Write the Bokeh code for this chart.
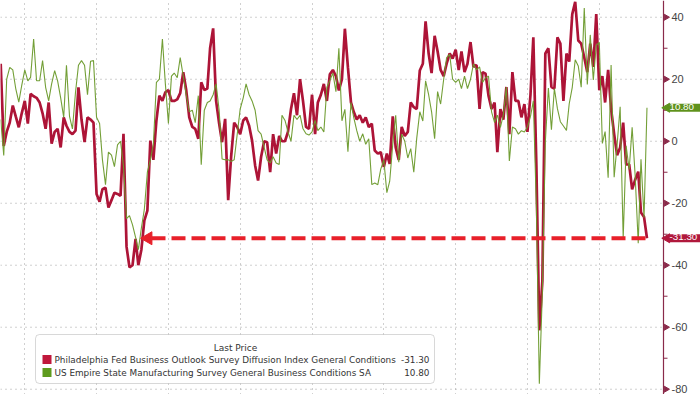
import datetime as dt
import numpy as np
import pandas as pd
from bokeh.plotting import figure
from bokeh.models import Range1d, FixedTicker, Grid, Label, BoxAnnotation
from bokeh.core.properties import value
from bokeh.embed import file_html
from bokeh.resources import INLINE

# ---------------- data (monthly, month-end) ----------------
start_month = "2005-04-30"

philly_2005 = [25, -1.5, 3, 6, 11.5, 8, 4.5, 9, 13]
philly_2006 = [5.7, 15.3, 14.5, 14, 12.5, 9, 4, 12.5, -0.8, 3, 4, -2]
philly_2007 = [7.7, 5, 3, 2.3, 3.4, 17.4, 7, -0.3, 7.7, 7, 6, -17]
philly_2008 = [-19.5, -15.5, -15, -21.4, -19, -16.6, -17, -17.6, 2.4, -34, -40.7, -40]
philly_2009 = [-31.5, -40, -35, -25.6, -22.4, 0.2, -6, 6.7, 14.7, 13, 15.8, 16.5]
philly_2010 = [13, 13, 13.5, 15.5, 22.3, 16.5, 7.7, 4.6, 4, 0.8, 19, 16.5]
philly_2011 = [17, 30, 36.4, 13, 5.7, -0.3, 7.2, -19, -5, 6, 4.6, 2.3]
philly_2012 = [6.7, 7.7, 5, 0.2, -7.8, -12.7, -5, 0, -0.3, -10, 2.3, -4]
philly_2013 = [1.7, 0, 0, 3, 10.4, 15.5, 8.4, 20, 13, 4.6, 4, 15]
philly_2014 = [2.3, 12.5, 15, 18.5, 13, 21.6, 23, 21, 16.4, 20, 36.3, 23.8]
philly_2015 = [12.5, 9.5, 7, 8.4, 6, 7.7, 4.6, 5.7, -3, -4, -3.5, -8.3]
philly_2016 = [-4, -7.3, 8, -2, -6, 4.6, 1.7, 3, 12.5, 11, 10.4, 22.8]
philly_2017 = [25, 38.7, 28.3, 22, 34, 29, 23, 21, 25, 28.3, 26.7, 29.5]
philly_2018 = [23, 29, 22.3, 25, 32, 24, 24.6, 10.4, 22.3, 21.8, 14.7, 10.4]
philly_2019 = [12.5, -3.5, 10.4, 7, 17.5, 2.3, 22.3, 13, 13, 7.7, 12, 3]
philly_2020 = [15, 33.5, -8, -61, -45, 28.3, 30, 17.5, 17, 33.5, 31.5, 13]
philly_2021 = [28.3, 25.7, 41, 45, 32.5, 31.5, 27, 22.3, 31.5, 24, 41, 16.5]
philly_2022 = [21, 12.5, 23, 10.4, 2.3, -4.5, -2, 6, -7.5, -7.5, -15.5, -12.4]
philly_2023 = [-9.8, -23, -24.4, -31.3]

empire_2005 = [7, -4.6, 20, 23.8, 23, 17, 12.6, 18, 23]
empire_2006 = [19.5, 20.6, 33, 19.5, 19.5, 26, 17.4, 13, 18.5, 22.8, 19.5, 14]
empire_2007 = [7.7, 24.5, 8, 4, 15.8, 24.5, 26, 24.5, 15, 25.8, 26, 7.7]
empire_2008 = [5.7, -6, -14, -3.5, -4.5, -8.2, -1.2, 0, -8, -25, -24, -27]
empire_2009 = [-31, -35, -28, -22, -10, -6, -1, 19, 20, 33, 18.5, 5.7]
empire_2010 = [21, 22, 20.5, 27, 21, 15, 9.5, 10, 6, 14.7, -7.6, 10]
empire_2011 = [12.5, 13, 15, 18.5, 10, -5.7, -6, -6, -6.5, -6, 2, 10.4]
empire_2012 = [14, 18.5, 15, 13, 10, 3.4, 2.3, -2, -6, -7, -5, -7]
empire_2013 = [-7.5, 8.4, 6.7, 3, 0, 8.4, 7, 8.4, 4, 2.4, 2, 3]
empire_2014 = [6.7, 3.4, 4.6, 3, 17.4, 19.6, 22, 16, 30, 6.6, 10.3, -3.4]
empire_2015 = [12.5, 7.7, 3.4, 0, 2.4, -1, 0.8, -14, -13.5, -14, -9, -6]
empire_2016 = [-16.6, -12.9, -1, 8.4, -6.8, 2.3, 0, -5.4, -2.4, -10, 1, 9.5]
empire_2017 = [6.5, 19.5, 15, 9.5, 0.8, 16, 12, 20, 27, 28, 20, 19]
empire_2018 = [20, 17, 21, 17, 20, 25, 23, 24, 19, 20.5, 21, 9.5]
empire_2019 = [6, 8.4, 4.5, 8.5, 17.5, -6.4, 4.6, 4, 2.3, 3.4, 3, 4.6]
empire_2020 = [8, 13, -21.5, -78.2, -48.5, -0.2, 17.2, 3.7, 17, 10.5, 6.3, 4.9]
empire_2021 = [3.5, 12.1, 17.4, 26.3, 24.3, 17.4, 43, 18.3, 34.3, 19.8, 30.9, 31.9]
empire_2022 = [-0.7, 3.1, -11.8, 24.6, -11.6, -1.2, 11.1, -31.3, -1.5, -9.1, 4.5, -11.2]
empire_2023 = [-32.9, -5.8, -24.6, 10.8]

philly_name = "Philadelphia Fed Business Outlook Survey Diffusion Index General Conditions"
empire_name = "US Empire State Manufacturing Survey General Business Conditions SA"
legend_title = "Last Price"
y_ticks = [-80, -60, -40, -20, 0, 20, 40]
grid_years = [2006, 2008, 2010, 2012, 2014, 2016, 2018, 2020, 2022]
arrow_tip_date = "2009-06-08"
arrow_line_start = "2009-07-12"

philly = sum([philly_2005, philly_2006, philly_2007, philly_2008, philly_2009, philly_2010,
              philly_2011, philly_2012, philly_2013, philly_2014, philly_2015, philly_2016,
              philly_2017, philly_2018, philly_2019, philly_2020, philly_2021, philly_2022,
              philly_2023], [])
empire = sum([empire_2005, empire_2006, empire_2007, empire_2008, empire_2009, empire_2010,
              empire_2011, empire_2012, empire_2013, empire_2014, empire_2015, empire_2016,
              empire_2017, empire_2018, empire_2019, empire_2020, empire_2021, empire_2022,
              empire_2023], [])

try:
    dates = pd.date_range(start_month, periods=len(philly), freq="ME")
except Exception:
    dates = pd.date_range(start_month, periods=len(philly), freq="M")

RED = "#ad1437"
GREEN = "#6c9a2c"
AXIS = "#8a2a4a"
ARROW = "#e8202a"
GRID = "#a0a0a0"

W, H = 700, 394
AXIS_PX = 663                      # position of the value axis, in pixels from the left
DAYS_PER_PX = 10.172
x_start = pd.Timestamp("2005-04-28")
x_end = x_start + pd.Timedelta(days=W * DAYS_PER_PX)
y_top, y_bottom = 45.4, -81.7


def px2x(px):
    return (x_start + pd.Timedelta(days=px * DAYS_PER_PX)).to_pydatetime()


p = figure(width=W, height=H, x_axis_type="datetime",
           x_axis_location=None, y_axis_location=None,
           toolbar_location=None, output_backend="svg",
           x_range=Range1d(x_start.to_pydatetime(), x_end.to_pydatetime()),
           y_range=Range1d(y_bottom, y_top),
           min_border_left=0, min_border_top=0, min_border_bottom=0, min_border_right=0)
p.outline_line_color = None
p.background_fill_color = "white"
p.border_fill_color = "white"
for g in p.grid:
    g.visible = False

# vertical (time) grid
grid_ms = [pd.Timestamp(f"{y}-01-01").value // 10**6 for y in grid_years]
p.add_layout(Grid(dimension=0, ticker=FixedTicker(ticks=grid_ms), grid_line_color=GRID,
                  grid_line_dash="1 4", grid_line_width=1))

# horizontal grid, stopping at the value axis
n = len(y_ticks)
p.segment(x0=[x_start.to_pydatetime()] * n, x1=[px2x(AXIS_PX)] * n, y0=y_ticks, y1=y_ticks,
          line_color=GRID, line_dash="1 4", line_width=1)

# series
p.line(dates, philly, line_width=2.7, color=RED)
p.line(dates, empire, line_width=1.1, color=GREEN, alpha=0.95)

# dashed arrow at the latest Philly level
last_p = philly[-1]
last_e = empire[-1]
p.line([pd.Timestamp(arrow_line_start), dates[-1]], [last_p, last_p],
       line_width=4, color=ARROW, line_dash="14 6")
p.scatter([pd.Timestamp(arrow_tip_date)], [last_p], marker="triangle", size=13,
          angle=np.pi / 2, color=ARROW)

# value axis on the right: line, tick marks, labels
p.segment(x0=[px2x(AXIS_PX)], x1=[px2x(AXIS_PX)], y0=[y_bottom], y1=[y_top],
          line_color=AXIS, line_width=1.2)
p.scatter([px2x(AXIS_PX + 2.5)] * n, y_ticks, marker="triangle", size=6,
          angle=-np.pi / 2, color=AXIS)
minor = [t + 10 for t in y_ticks[:-1]]
p.segment(x0=[px2x(AXIS_PX)] * len(minor), x1=[px2x(AXIS_PX + 4)] * len(minor),
          y0=minor, y1=minor, line_color=AXIS, line_width=1)
p.text(x=[px2x(AXIS_PX + 8)] * n, y=y_ticks, text=[f"{t:g}" for t in y_ticks],
       text_font=value("Liberation Sans"), text_font_size="11px", text_color="#444444",
       text_baseline="middle", text_align="left")

# right-hand value tags
for val, col in ((last_e, "#5f921c"), (last_p, "#b0183c")):
    p.scatter([px2x(AXIS_PX + 3.5)], [val], marker="triangle", size=9, angle=np.pi / 2,
              color=col)
    p.add_layout(Label(x=AXIS_PX + 6, x_units="screen", y=val, y_units="data",
                       text=f"{val:.2f}", text_color="white", text_font="Liberation Sans",
                       text_font_size="9.8px", text_baseline="middle", text_align="left",
                       background_fill_color=col, padding=(0, 6, 0, 2)))

# legend box
p.add_layout(BoxAnnotation(left=35, right=434, top=H - 334, bottom=H - 383,
                           left_units="screen", right_units="screen",
                           top_units="screen", bottom_units="screen",
                           fill_color="white", fill_alpha=1.0,
                           line_color="#7f7f7f", line_width=1, border_radius=4))
p.add_layout(Label(x=235, y=H - 347, x_units="screen", y_units="screen", text=legend_title,
                   text_align="center", text_baseline="middle", text_font="DejaVu Sans",
                   text_font_size="9px", text_color="#333333"))
rows = [(philly_name, f"{last_p:.2f}", "#c0183c", 359), (empire_name, f"{last_e:.2f}", "#5e9b1e", 372)]
for name, txt, col, yc in rows:
    p.add_layout(BoxAnnotation(left=42, right=51, top=H - (yc - 4.5), bottom=H - (yc + 4.5),
                               left_units="screen", right_units="screen",
                               top_units="screen", bottom_units="screen",
                               fill_color=col, fill_alpha=1.0, line_color=None))
    p.add_layout(Label(x=54, y=H - yc, x_units="screen", y_units="screen", text=name,
                       text_align="left", text_baseline="middle", text_font="DejaVu Sans",
                       text_font_size="8.85px", text_color="#333333"))
    p.add_layout(Label(x=429, y=H - yc, x_units="screen", y_units="screen", text=txt,
                       text_align="right", text_baseline="middle", text_font="DejaVu Sans",
                       text_font_size="8.85px", text_color="#333333"))

open("out.html", "w").write(file_html(p, INLINE))
